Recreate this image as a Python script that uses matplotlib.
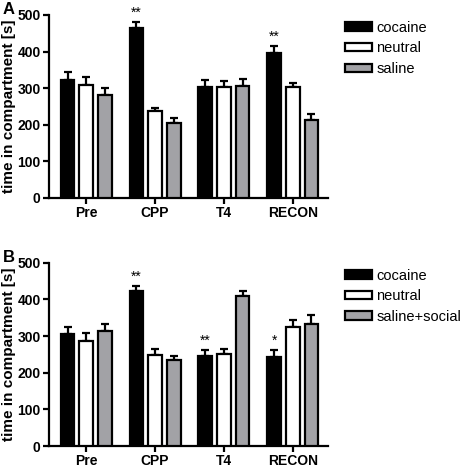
import matplotlib.pyplot as plt
from matplotlib.patches import Patch

plt.rcParams['font.family'] = ['Liberation Sans', 'DejaVu Sans']

phases = ['Pre', 'CPP', 'T4', 'RECON']

# panel A
a_cocaine = [322, 465, 302, 397]
a_cocaine_err = [23, 17, 20, 17]
a_neutral = [308, 238, 302, 302]
a_neutral_err = [22, 7, 16, 13]
a_saline = [281, 205, 307, 213]
a_saline_err = [19, 14, 18, 15]
a_stars = ['', '**', '', '**']

# panel B
b_cocaine = [305, 422, 245, 244]
b_cocaine_err = [19, 15, 17, 18]
b_neutral = [286, 248, 250, 325]
b_neutral_err = [21, 17, 15, 18]
b_saline = [314, 235, 409, 333]
b_saline_err = [18, 10, 15, 25]
b_stars = ['', '**', '**', '*']

colors = ['black', 'white', '#a2a2a6']
width = 0.2
offsets = [-0.27, 0, 0.27]

fig = plt.figure(figsize=(4.63, 4.68), dpi=100)
axA = fig.add_axes([0.1058, 0.5776, 0.6026, 0.3904])
axB = fig.add_axes([0.1058, 0.047, 0.6026, 0.3917])


def draw(ax, series, errs, stars, labels, letter):
    x = list(range(len(phases)))
    for vals, err, col, off in zip(series, errs, colors, offsets):
        pos = [i + off for i in x]
        ax.bar(pos, vals, width=width, color=col, edgecolor='black', linewidth=1.6, zorder=3)
        ax.errorbar(pos, vals, yerr=[[0] * len(vals), err], fmt='none', ecolor='black',
                    elinewidth=1.6, capsize=3, capthick=1.6, zorder=2)
    for i, s in enumerate(stars):
        if s:
            top = series[0][i] + errs[0][i]
            ax.text(i + offsets[0], top + 6, s, ha='center', va='bottom', fontsize=10)
    ax.set_xlim(-0.54, 3.51)
    ax.set_ylim(0, 500)
    ax.set_yticks([0, 100, 200, 300, 400, 500])
    ax.set_xticks(x)
    ax.set_xticklabels(phases, fontweight='bold', fontsize=10)
    for t in ax.get_yticklabels():
        t.set_fontweight('bold')
        t.set_fontsize(10)
    ax.spines['top'].set_visible(False)
    ax.spines['right'].set_visible(False)
    ax.spines['left'].set_linewidth(1.6)
    ax.spines['bottom'].set_linewidth(1.6)
    ax.tick_params(width=1.6, length=4, pad=2)
    ax.set_ylabel('time in compartment [s]', fontweight='bold', fontsize=11, labelpad=1)
    handles = [Patch(facecolor=c, edgecolor='black', linewidth=1.6) for c in colors]
    ax.legend(handles, labels, loc='upper left', bbox_to_anchor=(1.04, 1.0), frameon=False,
              fontsize=10.5, handlelength=1.85, handleheight=0.5, labelspacing=0.45,
              handletextpad=0.3, borderaxespad=0)
    ax.text(-0.165, 1.03, letter, transform=ax.transAxes, fontsize=12, fontweight='bold',
            ha='left', va='center')


draw(axA, [a_cocaine, a_neutral, a_saline], [a_cocaine_err, a_neutral_err, a_saline_err],
     a_stars, ['cocaine', 'neutral', 'saline'], 'A')
draw(axB, [b_cocaine, b_neutral, b_saline], [b_cocaine_err, b_neutral_err, b_saline_err],
     b_stars, ['cocaine', 'neutral', 'saline+social'], 'B')

fig.savefig('out.png', dpi=100)
